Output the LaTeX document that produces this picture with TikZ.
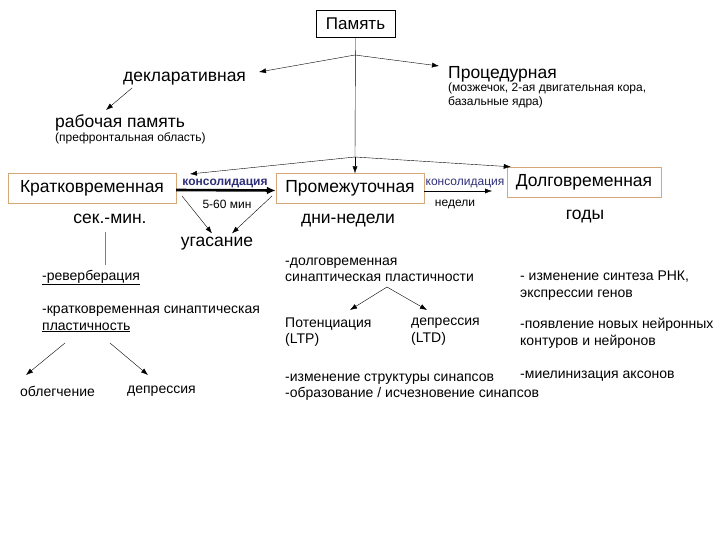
\documentclass[tikz,border=0pt]{standalone}
\usepackage{fontspec}
\setmainfont{Liberation Sans}
\usetikzlibrary{arrows.meta,positioning}
\definecolor{boxorange}{RGB}{214,168,120}
\definecolor{consblue}{RGB}{46,46,122}

\begin{document}
\begin{tikzpicture}[x=1pt,y=-1pt,
  arr/.style={-{Latex[length=7pt,width=5pt]}},
  big/.style={font=\fontsize{17.5}{21}\selectfont},
  med/.style={font=\fontsize{14}{16.5}\selectfont},
  sml/.style={font=\fontsize{12}{14}\selectfont},
  stagebox/.style={draw=boxorange, big, inner sep=0pt, minimum height=30pt},
  txt/.style={anchor=base west, inner sep=0pt},
  lbl/.style={anchor=base, inner sep=0pt}]
  \useasboundingbox (0,0) rectangle (720,540);

  % top level
  \node[draw, font=\fontsize{17}{20}\selectfont, minimum width=79pt, minimum height=27pt, inner sep=0pt] (mem) at (355.5,23.5) {Память};
  \coordinate (fa) at (355,55);
  \coordinate (fb) at (355,157);
  \draw (mem.south) -- (fb);
  \node[txt, big] (decl) at (123,81.5) {декларативная};
  \node[txt, big] (proc) at (448,79) {Процедурная};
  \node[txt, sml] (procsub) at (448,92) {(мозжечок, 2-ая двигательная кора,};
  \node[txt, sml] (procsubb) at (448,106) {базальные ядра)};
  \node[txt, big] (work) at (55,128) {рабочая память};
  \node[txt, sml] (worksub) at (55,141.5) {(префронтальная область)};
  \coordinate (decltip) at (259,72);
  \coordinate (proctip) at (439,66);
  \draw[arr] (fa) -- (decltip);
  \draw[arr] (fa) -- (proctip);
  \coordinate (da) at (132,88);
  \coordinate (wa) at (106,110);
  \draw[arr] (da) -- (wa);

  % stages
  \node[stagebox, minimum width=168pt] (short) at (92,188) {Кратковременная};
  \node[stagebox, minimum width=148pt] (inter) at (350,188.5) {Промежуточная};
  \node[stagebox, minimum width=154pt] (long) at (584,182) {Долговременная};
  \coordinate (sa) at (190,174);
  \draw[arr] (fb) -- (sa);
  \draw[arr] (fb) -- (inter.north -| fb);
  \draw[arr] (fb) -- ([xshift=4pt]long.north west);
  \draw[-{Latex[length=9pt,width=8pt]}, line width=2.6pt] ([yshift=-2pt]short.east) -- ([yshift=-2pt]inter.west);
  \coordinate (la) at (492,191);
  \draw[arr] ([yshift=-2.5pt]inter.east) -- (la);
  \node[lbl, font=\bfseries\fontsize{12}{14}\selectfont, text=consblue] (cons1) at (225,186) {консолидация};
  \node[lbl, font=\fontsize{12}{14}\selectfont, text=consblue] (cons2) at (465,186) {консолидация};
  \node[lbl, sml] (min) at (227,208) {5-60 мин};
  \node[lbl, sml] (weeks) at (455,207) {недели};

  \node[lbl, big] (sec) at (110,224) {сек.-мин.};
  \node[lbl, big] (days) at (348,223) {дни-недели};
  \node[lbl, big] (years) at (585,219) {годы};
  \node[lbl, big] (fade) at (217,246) {угасание};
  \coordinate (ka) at (182,196);
  \coordinate (ia) at (272,196);
  \draw[arr] (ka) -- ([xshift=-5pt,yshift=3pt]fade.north);
  \draw[arr] (ia) -- ([xshift=15pt,yshift=3pt]fade.north);

  % short-term
  \coordinate (sb) at (105,232);
  \coordinate (sc) at (105,265);
  \draw[gray] (sb) -- (sc);
  \node[txt, med] (rev) at (42,280) {\underline{-реверберация}};
  \node[txt, med] (stp) at (42,313) {-кратковременная синаптическая};
  \node[txt, med] (stpb) at (42,330) {\underline{пластичность}};
  \coordinate (pa) at (65,343);
  \coordinate (pb) at (110,343);
  \node[txt, med] (facil) at (20,396) {облегчение};
  \node[txt, med] (dep1) at (127,393) {депрессия};
  \draw[arr] (pa) -- (26,375);
  \draw[arr] (pb) -- (148,375);

  % intermediate
  \node[txt, med] (ltp) at (285,265) {-долговременная};
  \node[txt, med] (ltpb) at (285,281) {синаптическая пластичности};
  \coordinate (ma) at (387,287);
  \node[txt, med] (pot) at (285,327) {Потенциация};
  \node[txt, med] (potb) at (285,343) {(LTP)};
  \node[txt, med] (dep2) at (411,325) {депрессия};
  \node[txt, med] (dep2b) at (411,342) {(LTD)};
  \draw[arr] (ma) -- (350,310);
  \draw[arr] (ma) -- (427,310);
  \node[txt, med] (struct) at (285,381) {-изменение структуры синапсов};
  \node[txt, med] (structb) at (285,397) {-образование / исчезновение синапсов};

  % long-term
  \node[txt, med] (rna) at (520,280) {- изменение синтеза РНК,};
  \node[txt, med] (rnab) at (520,297) {экспрессии генов};
  \node[txt, med] (neur) at (520,328) {-появление новых нейронных};
  \node[txt, med] (neurb) at (520,345) {контуров и нейронов};
  \node[txt, med] (myel) at (520,378) {-миелинизация аксонов};
\end{tikzpicture}
\end{document}
